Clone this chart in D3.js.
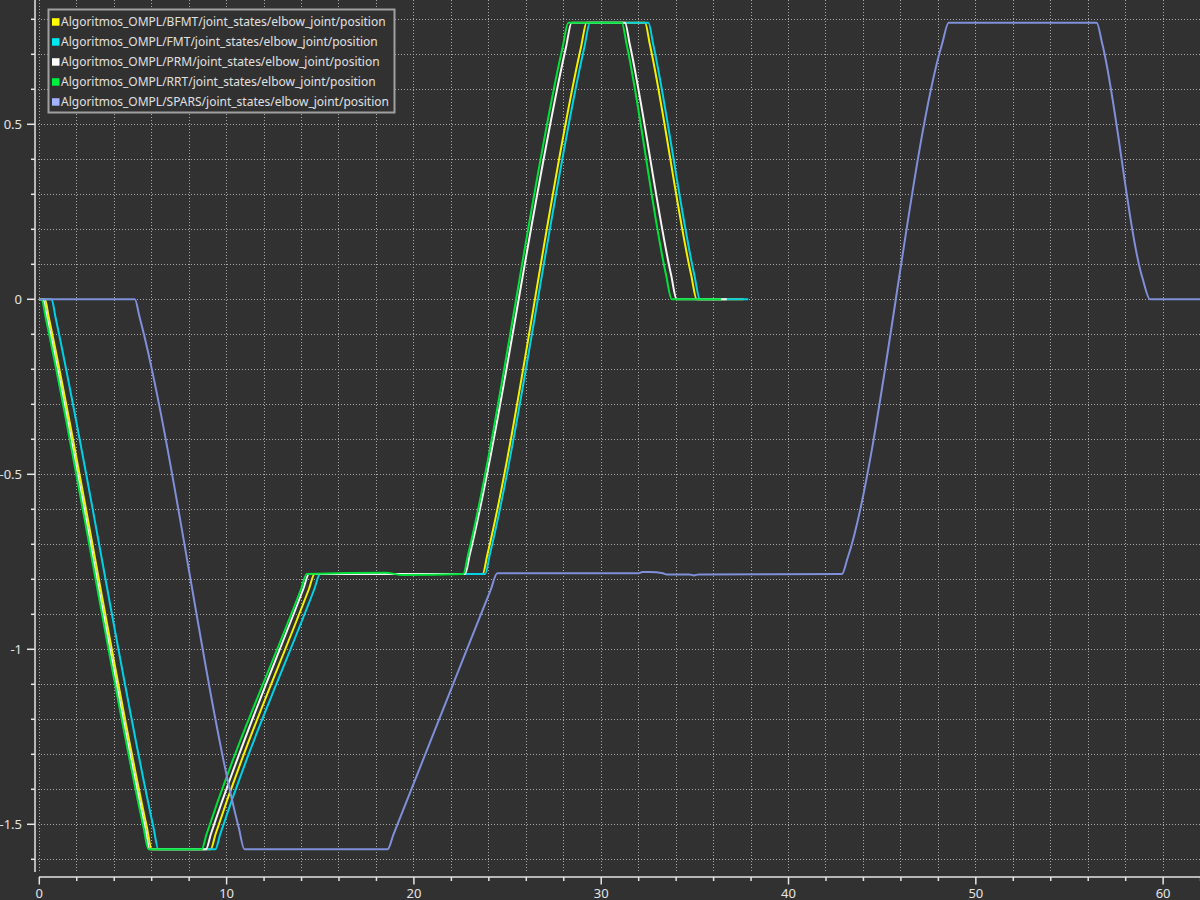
<!DOCTYPE html>
<html>
<head>
<meta charset="utf-8">
<script src="https://cdn.jsdelivr.net/npm/d3@7.9.0/dist/d3.min.js"></script>
<style>
  html, body { margin: 0; padding: 0; background: #313131; }
  svg { display: block; }
</style>
</head>
<body>
<div id="chart"></div>
<script>
// series names and colours
const names = [
  "Algoritmos_OMPL/BFMT/joint_states/elbow_joint/position",
  "Algoritmos_OMPL/FMT/joint_states/elbow_joint/position",
  "Algoritmos_OMPL/PRM/joint_states/elbow_joint/position",
  "Algoritmos_OMPL/RRT/joint_states/elbow_joint/position",
  "Algoritmos_OMPL/SPARS/joint_states/elbow_joint/position"
];
const lineColors = ["#f2f200", "#00d2e4", "#f4f4f4", "#00e23a", "#7f8fd9"];
const swatchColors = ["#ffff00", "#00e8f0", "#ffffff", "#00f040", "#a3b2ff"];

// [time, position]
const bfmt = [[0,0],[0.3,0],[0.5,-0.05],[5.75,-1.51],[6.0,-1.571],[9.15,-1.571],[9.4,-1.53],[14.4,-0.827],[14.7,-0.785],
  [23.67,-0.785],[23.92,-0.73],[28.92,0.72],[29.22,0.79],[32.34,0.79],[32.59,0.73],[34.8,0.07],[35.1,0],[37.6,0]];
const fmt = [[0,0],[0.66,0],[0.86,-0.05],[6.1,-1.51],[6.35,-1.571],[9.4,-1.571],[9.65,-1.53],[14.69,-0.827],[14.99,-0.785],
  [23.8,-0.785],[24.05,-0.73],[29.1,0.72],[29.4,0.79],[32.52,0.79],[32.77,0.73],[34.97,0.07],[35.27,0],[37.85,0]];
const prm = [[0,0],[0.2,0],[0.4,-0.05],[5.65,-1.51],[5.9,-1.571],[8.9,-1.571],[9.15,-1.53],[14.1,-0.827],[14.4,-0.785],
  [22.73,-0.785],[22.98,-0.73],[28.12,0.72],[28.42,0.79],[31.27,0.79],[31.52,0.73],[33.73,0.07],[34.03,0],[36.7,0]];
const rrt = [[0,0],[0.13,0],[0.33,-0.05],[5.57,-1.51],[5.82,-1.571],[8.67,-1.571],[8.92,-1.53],[13.98,-0.827],[14.28,-0.785],
  [18.5,-0.781],[19.4,-0.788],[22.64,-0.785],[22.89,-0.73],[27.94,0.72],[28.24,0.79],[31.1,0.79],[31.35,0.73],[33.46,0.07],[33.76,0],[36.4,0]];
const spars = [[0,0],[5.1,0],[5.35,-0.05],[10.65,-1.51],[10.95,-1.571],[18.6,-1.571],[18.9,-1.53],[24.1,-0.83],[24.45,-0.783],
  [32.0,-0.783],[32.2,-0.779],[32.6,-0.779],[33.3,-0.783],[33.5,-0.786],[34.7,-0.786],[34.95,-0.789],[35.2,-0.786],
  [42.85,-0.785],[43.15,-0.74],[48.2,0.73],[48.55,0.79],[56.45,0.79],[56.75,0.73],[58.9,0.06],[59.3,0],[62,0]];
const seriesData = [bfmt, fmt, prm, rrt, spars];

const xTicksMajor = [0, 10, 20, 30, 40, 50, 60];
const yTicksMajor = [-1.5, -1, -0.5, 0, 0.5];
const yTickLabels = ["-1.5", "-1", "-0.5", "0", "0.5"];

const width = 1200, height = 900;
const svg = d3.select("#chart").append("svg")
    .attr("width", width)
    .attr("height", height)
    .style("font-family", "'Noto Sans', 'DejaVu Sans', sans-serif");

svg.append("rect").attr("width", width).attr("height", height).attr("fill", "#313131");

const x = d3.scaleLinear().domain([0, 62]).range([39.3, 1200.6]);
const y = d3.scaleLinear().domain([-1.6, 0.8]).range([859.3, 19.3]);

const axisColor = "#e4e4e4";
const gridColor = "#a8a8a8";

// grid
const xMinor = d3.range(0, 63, 2);
const yMinor = d3.range(-16, 9, 1).map(d => d / 10);

svg.append("g").selectAll("line").data(xMinor).enter().append("line")
    .attr("x1", d => x(d)).attr("x2", d => x(d))
    .attr("y1", 0).attr("y2", 871)
    .attr("stroke", gridColor).attr("stroke-width", 1)
    .attr("stroke-dasharray", "1,2")
    .attr("shape-rendering", "crispEdges");

svg.append("g").selectAll("line").data(yMinor).enter().append("line")
    .attr("x1", 38).attr("x2", 1200)
    .attr("y1", d => y(d)).attr("y2", d => y(d))
    .attr("stroke", gridColor).attr("stroke-width", 1)
    .attr("stroke-dasharray", "1,2")
    .attr("shape-rendering", "crispEdges");

// y axis
const yAxis = svg.append("g");
yAxis.append("line").attr("x1", 35).attr("x2", 35).attr("y1", 0).attr("y2", 872)
    .attr("stroke", axisColor).attr("stroke-width", 1.5);
yAxis.selectAll(".ymin").data(yMinor).enter().append("line")
    .attr("x1", d => yTicksMajor.some(t => Math.abs(t - d) < 1e-6) ? 27 : 31).attr("x2", 35)
    .attr("y1", d => y(d)).attr("y2", d => y(d))
    .attr("stroke", axisColor).attr("stroke-width", 1.5);
yAxis.selectAll("text").data(yTicksMajor).enter().append("text")
    .attr("x", 22).attr("y", d => y(d))
    .attr("dy", "0.36em")
    .attr("text-anchor", "end")
    .attr("fill", axisColor).attr("font-size", 13)
    .text((d, i) => yTickLabels[i]);

// x axis
const xAxis = svg.append("g");
xAxis.append("line").attr("x1", 39).attr("x2", 1200).attr("y1", 877).attr("y2", 877)
    .attr("stroke", axisColor).attr("stroke-width", 1.5);
xAxis.selectAll(".xmin").data(xMinor).enter().append("line")
    .attr("x1", d => x(d)).attr("x2", d => x(d))
    .attr("y1", 877).attr("y2", d => d % 10 === 0 ? 884.5 : 881)
    .attr("stroke", axisColor).attr("stroke-width", 1.5);
xAxis.selectAll("text").data(xTicksMajor).enter().append("text")
    .attr("x", d => x(d)).attr("y", 897.5)
    .attr("text-anchor", "middle")
    .attr("fill", axisColor).attr("font-size", 13)
    .text(d => d);

// curves
svg.append("clipPath").attr("id", "plot-clip")
  .append("rect").attr("x", 36).attr("y", 0).attr("width", 1164).attr("height", 872);

const line = d3.line()
    .x(d => x(d[0]))
    .y(d => y(d[1]))
    .curve(d3.curveMonotoneX);

svg.append("g").attr("clip-path", "url(#plot-clip)")
  .selectAll("path").data(seriesData).enter().append("path")
    .attr("d", line)
    .attr("fill", "none")
    .attr("stroke", (d, i) => lineColors[i])
    .attr("stroke-width", 2);

// legend
const legend = svg.append("g");
legend.append("rect")
    .attr("x", 48.5).attr("y", 9.5).attr("width", 346).attr("height", 103)
    .attr("fill", "#313131").attr("stroke", "#a0a0a0").attr("stroke-width", 2);
const items = legend.selectAll(".item").data(names).enter().append("g")
    .attr("transform", (d, i) => "translate(0," + (21.7 + i * 20) + ")");
items.append("rect")
    .attr("x", 52).attr("y", -3.5).attr("width", 7.5).attr("height", 7.5)
    .attr("fill", (d, i) => swatchColors[i]);
items.append("text")
    .attr("x", 61).attr("y", 0).attr("dy", "0.36em")
    .attr("fill", "#e0e0e0").attr("font-size", 12)
    .text(d => d);
</script>
</body>
</html>
